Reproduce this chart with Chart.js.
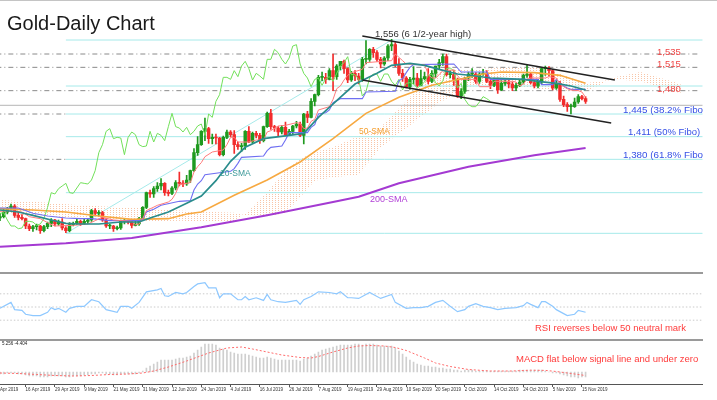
<!DOCTYPE html>
<html>
<head>
<meta charset="utf-8">
<script src="https://cdn.jsdelivr.net/npm/chart.js@4.4.1/dist/chart.umd.min.js"></script>
<style>
html, body { margin: 0; padding: 0; background: #fff; }
body { width: 717px; height: 400px; position: relative; overflow: hidden; font-family: "Liberation Sans", Arial, sans-serif; }
canvas { position: absolute; left: -20px; }
.rule { position: absolute; left: 0; width: 703px; height: 2px; background: #9a9a9a; }
#notes { position: absolute; left: 0; top: 0; width: 703px; height: 400px; overflow: hidden; }
.t { position: absolute; white-space: nowrap; line-height: 1; }
</style>
</head>
<body>
<canvas id="main" width="737" height="272" style="top:0"></canvas>
<canvas id="rsi" width="737" height="66" style="top:274px"></canvas>
<canvas id="macd" width="737" height="59" style="top:341px"></canvas>
<div style="position:absolute;left:0;top:0;width:717px;height:1px;background:#c4c4c4"></div>
<div class="rule" style="top:272px"></div>
<div class="rule" style="top:339px"></div>

<div id="notes">
  <div class="t" style="left:7px;top:13px;font-size:20px;color:#1a1a1a">Gold-Daily Chart</div>
  <div class="t" style="left:375px;top:29px;font-size:9.5px;color:#333">1,556 (6 1/2-year high)</div>
  <div class="t" style="left:657px;top:47px;font-size:9.5px;color:#f04545">1,535</div>
  <div class="t" style="left:657px;top:58.5px;font-size:9.5px;color:#f04545">1,515</div>
  <div class="t" style="left:657px;top:83.5px;font-size:9.5px;color:#f04545">1,480</div>
  <div class="t" style="left:623px;top:104.5px;font-size:9.8px;color:#3650e6">1,445 (38.2% Fibo)</div>
  <div class="t" style="left:628px;top:127px;font-size:9.5px;color:#3650e6">1,411 (50% Fibo)</div>
  <div class="t" style="left:623px;top:149.5px;font-size:9.8px;color:#3650e6">1,380 (61.8% Fibo)</div>
  <div class="t" style="left:359px;top:127px;font-size:8.5px;color:#f5a030">50-SMA</div>
  <div class="t" style="left:220px;top:169px;font-size:8.5px;color:#3a9898">20-SMA</div>
  <div class="t" style="left:370px;top:194.5px;font-size:9px;color:#b13fd6">200-SMA</div>
  <div class="t" style="left:535px;top:322.5px;font-size:9.5px;color:#ff3b3b">RSI reverses below 50 neutral mark</div>
  <div class="t" style="left:516px;top:353.5px;font-size:9.5px;color:#ff3b3b">MACD flat below signal line and under zero</div>
  <div class="t" style="left:2px;top:341.5px;font-size:4.5px;color:#222">5.256 -4.404</div>
</div>

<script>
// bar index 0 = 5 Apr 2019 ... 160 = 18 Nov 2019
const opens = [1289,1291,1298,1303,1307,1293,1290,1288,1277,1273,
  1276,1277,1270,1276,1281,1286,1280,1283,1274,1270,
  1279,1281,1284,1281,1284,1286,1300,1296,1297,1286,
  1277,1277,1273,1274,1284,1284,1283,1278,1280,1288,
  1305,1327,1325,1333,1337,1341,1327,1326,1334,1342,
  1341,1340,1346,1360,1387,1399,1419,1423,1408,1410,
  1409,1384,1410,1418,1414,1399,1396,1397,1419,1403,
  1416,1413,1405,1426,1446,1426,1424,1418,1425,1414,
  1419,1427,1430,1413,1445,1440,1464,1474,1500,1500,
  1497,1510,1501,1517,1524,1513,1496,1506,1502,1497,
  1527,1527,1542,1537,1527,1520,1529,1547,1549,1520,
  1506,1499,1486,1497,1499,1488,1498,1501,1494,1506,
  1517,1522,1531,1504,1504,1497,1472,1479,1499,1505,
  1505,1494,1505,1505,1494,1488,1497,1481,1491,1492,
  1490,1484,1488,1493,1503,1505,1492,1487,1495,1513,
  1514,1510,1484,1491,1467,1459,1456,1456,1463,1471,
  1468];
const highs = [1296,1302,1305,1310,1309,1298,1294,1289,1280,1278,
  1280,1278,1278,1283,1288,1287,1286,1288,1276,1282,
  1283,1287,1286,1288,1288,1302,1303,1300,1299,1288,
  1280,1278,1277,1286,1287,1286,1285,1284,1290,1306,
  1328,1331,1336,1342,1348,1342,1331,1336,1345,1358,
  1345,1353,1361,1393,1411,1420,1439,1425,1415,1415,
  1410,1412,1421,1420,1420,1403,1401,1420,1426,1418,
  1419,1416,1427,1448,1452,1428,1426,1428,1433,1422,
  1428,1434,1433,1446,1449,1468,1475,1503,1508,1506,
  1513,1535,1519,1524,1526,1514,1509,1510,1506,1530,
  1555,1543,1545,1540,1530,1531,1549,1557,1552,1528,
  1512,1501,1500,1516,1506,1511,1508,1513,1510,1517,
  1527,1535,1535,1510,1511,1499,1483,1500,1508,1513,
  1507,1507,1512,1510,1498,1499,1499,1495,1498,1496,
  1493,1491,1496,1505,1518,1507,1496,1497,1514,1517,
  1516,1512,1495,1494,1472,1462,1460,1469,1474,1473,
  1471];
const lows = [1285,1289,1295,1301,1290,1286,1286,1273,1270,1269,
  1271,1266,1268,1273,1276,1277,1278,1271,1267,1268,
  1277,1279,1278,1279,1281,1284,1293,1292,1284,1275,
  1273,1269,1271,1272,1280,1280,1274,1277,1278,1286,
  1303,1320,1320,1329,1331,1323,1322,1324,1331,1337,
  1336,1338,1342,1359,1383,1398,1405,1401,1400,1400,
  1382,1382,1408,1411,1386,1392,1389,1392,1402,1402,
  1409,1401,1403,1425,1422,1419,1412,1415,1412,1413,
  1415,1424,1411,1400,1432,1439,1457,1472,1495,1491,
  1496,1480,1497,1511,1506,1492,1494,1495,1490,1494,
  1520,1524,1530,1524,1514,1518,1525,1540,1516,1503,
  1494,1484,1482,1490,1486,1487,1496,1490,1492,1500,
  1512,1518,1502,1499,1488,1470,1468,1476,1495,1500,
  1491,1491,1503,1492,1483,1486,1476,1480,1488,1484,
  1480,1480,1486,1490,1500,1490,1484,1484,1490,1503,
  1502,1481,1482,1464,1456,1449,1445,1455,1461,1466,
  1461];
const closes = [1291,1298,1303,1307,1293,1290,1288,1277,1273,1276,
  1277,1270,1276,1281,1286,1280,1283,1274,1270,1279,
  1281,1284,1281,1284,1286,1300,1296,1297,1286,1277,
  1277,1273,1274,1284,1284,1283,1278,1280,1288,1305,
  1327,1325,1333,1337,1341,1327,1326,1334,1342,1341,
  1340,1346,1360,1387,1399,1419,1423,1408,1410,1409,
  1384,1410,1418,1414,1399,1396,1397,1419,1403,1416,
  1413,1405,1426,1446,1426,1424,1418,1425,1414,1419,
  1427,1430,1413,1445,1440,1464,1474,1500,1500,1497,
  1510,1501,1517,1524,1513,1496,1506,1502,1497,1527,
  1527,1542,1537,1527,1520,1529,1547,1549,1520,1506,
  1499,1486,1497,1499,1488,1498,1501,1494,1506,1517,
  1522,1531,1504,1504,1497,1472,1479,1499,1505,1505,
  1494,1505,1505,1494,1488,1497,1481,1491,1492,1490,
  1484,1488,1493,1503,1505,1492,1487,1495,1513,1514,
  1510,1484,1491,1467,1459,1456,1456,1463,1471,1468,
  1464];

// indicator lines (bar index, value)
const sma20Idx = [0,5,9,14,18,22,27,33,38,41,46,51,55,59,63,67,72,79,83,87,92,97,103,107,112,116,120,125,130,134,138,143,147,152,156,160];
const sma20 = [1301,1298,1293,1286,1281,1280,1280,1283,1283,1289,1298,1311,1322,1345,1374,1395,1408,1413,1416,1440,1465,1490,1506,1518,1521,1518,1512,1505,1502,1499,1498,1497,1494,1491,1487,1481];
const sma50Idx = [0,9,18,27,36,46,51,55,64,73,82,91,100,109,118,128,132,137,146,153,160];
const sma50 = [1303,1301,1298,1292,1287,1288,1295,1298,1323,1346,1373,1408,1446,1470,1488,1500,1505,1508,1507,1503,1491];
const sma200Idx = [0,18,36,55,73,91,98,109,128,146,160];
const sma200 = [1246,1251,1259,1275,1293,1313,1321,1341,1366,1383,1394];
const tenkanIdx = [0,3,6,8,11,13,15,20,24,26,28,31,36,37,38,39,40,43,46,47,48,49,52,53,54,55,56,58,61,62,63,64,65,68,70,72,73,74,76,78,81,82,83,84,85,86,87,90,91,92,93,94,95,96,99,100,107,108,109,110,111,116,117,118,119,120,121,124,125,126,130,131,134,135,140,141,142,143,144,145,149,150,152,153,154,155,156,158,159,160];
const tenkan = [1299,1300,1298,1291,1288,1282,1277,1278,1280,1285,1290,1286,1284,1279,1280,1288,1300,1308,1313,1317,1326,1339,1342,1358,1366,1372,1381,1388,1391,1399,1410,1410,1403,1403,1406,1406,1418,1420,1427,1428,1432,1431,1423,1424,1434,1437,1451,1456,1467,1483,1487,1496,1503,1507,1512,1522,1525,1535,1530,1525,1520,1519,1505,1499,1499,1504,1510,1511,1502,1497,1497,1486,1486,1494,1494,1493,1487,1490,1497,1499,1499,1501,1499,1490,1486,1483,1481,1480,1478,1470];
const kijunIdx = [0,5,9,13,18,22,25,30,38,39,40,42,44,49,52,53,54,55,56,63,64,65,66,72,73,74,77,78,79,84,85,86,87,89,90,91,93,99,100,108,109,110,111,112,113,124,125,126,133,134,147,148,151,152,153,154,155,156,160];
const kijun = [1304,1304,1296,1292,1289,1288,1288,1285,1285,1287,1298,1302,1308,1314,1315,1331,1340,1345,1354,1359,1363,1371,1380,1382,1390,1395,1397,1406,1417,1417,1425,1429,1445,1447,1451,1462,1468,1468,1478,1479,1495,1498,1507,1515,1519,1520,1514,1508,1508,1497,1497,1489,1489,1497,1491,1487,1484,1482,1482];
const cloudIdx = [0,10,20,30,40,50,58,64,68,73,78,82,86,91,98,104,112,116,120,128,137,148,160,168,175,186];
const senkouA = [1296,1292,1290,1287,1284,1285,1283,1283,1300,1328,1360,1378,1388,1395,1412,1425,1470,1500,1510,1512,1514,1515,1491,1497,1494,1476];
const senkouB = [1316,1313,1309,1306,1304,1300,1298,1297,1292,1292,1296,1320,1345,1350,1354,1395,1428,1445,1462,1486,1490,1482,1478,1500,1508,1490];
const CHIKOU_SHIFT = 26;

// drawn levels
const fiboLevels = [1556, 1487, 1445, 1411, 1377, 1327, 1266];
const fiboStart = 18;
const dashLevels = [1535, 1515, 1480];
const leftDashLevels = [1445, 1377];
const priceLine = 1458;
const fiboDiag = [[18, 1266], [107, 1556]];
const channelTop = [[99, 1562], [168, 1496]];
const channelBottom = [[99, 1496], [167, 1431.5]];

// RSI (bar index, value)
const rsiIdx = [0,3,4,6,7,9,11,13,14,15,16,18,19,21,23,25,27,29,32,33,35,36,38,40,43,44,45,46,48,50,51,53,54,56,57,59,60,61,63,65,66,67,68,70,72,73,74,76,78,81,82,83,85,87,90,92,93,95,96,98,101,104,107,108,111,113,115,117,119,121,123,125,127,128,130,132,134,136,138,141,143,144,145,147,148,149,151,152,154,155,157,158,160];
const rsiVal = [48,57,46,45,39,37,37,42,49,46,48,42,48,51,51,61,58,46,42,51,51,48,57,73,76,78,67,66,72,70,72,81,85,87,79,79,64,70,70,61,61,66,61,64,60,69,61,58,57,60,54,61,66,73,72,70,73,64,64,63,72,63,69,57,48,49,49,51,57,60,51,43,46,51,55,51,49,46,48,49,52,57,54,49,58,58,51,46,40,37,39,45,42];
const rsiLevels = [30, 50, 70];

// MACD histogram, one per bar, and signal line (bar index, value)
const macdHist = [-2,-2,-1,-1,-1,-2,-2,-3,-4,-4,
  -4,-5,-5,-5,-4,-4,-4,-4,-5,-5,
  -4,-4,-4,-3,-3,-2,-2,-1,-1,-2,
  -2,-3,-3,-2,-2,-2,-2,-2,-1,1,
  4,6,8,10,12,12,12,12,13,14,
  14,15,16,19,22,25,28,28,28,27,
  24,23,22,20,19,18,18,18,17,16,
  15,14,14,15,14,13,12,12,12,12,
  12,12,11,13,14,16,18,20,22,23,
  24,25,26,27,27,27,27,28,28,27,
  28,28,28,27,26,26,26,26,24,21,
  18,15,12,10,8,7,6,6,5,5,
  4,4,3,3,2,2,1,2,2,2,
  1,1,1,1,1,1,1,1,1,1,
  1,1,2,2,2,2,2,2,2,1,
  0,-1,-1,-2,-3,-4,-5,-5,-6,-5,
  -5];
const sigIdx = [0,5,10,15,20,25,30,35,39,42,46,51,57,62,66,69,73,77,82,85,87,91,95,98,101,105,108,111,116,119,123,128,134,140,145,149,152,156,160];
const sigVal = [-1,-1.5,-2.5,-3.5,-4,-3.5,-2.5,-2,-1,1,5,11,19,24,25,23,20,17,14.5,14,15.5,20,24,26,26.5,26,24.5,21.5,14,9,5.5,2.5,1,1,1.8,1.6,0.5,-1.5,-3.5];

// x axis
const tickBars = [-1,7,15,23,31,39,47,55,63,71,79,87,95,103,111,119,127,135,143,151,159];
const tickLabels = ['4 Apr 2019','16 Apr 2019','29 Apr 2019','9 May 2019','21 May 2019','31 May 2019','12 Jun 2019','24 Jun 2019','4 Jul 2019','16 Jul 2019','26 Jul 2019','7 Aug 2019','19 Aug 2019','29 Aug 2019','10 Sep 2019','20 Sep 2019','2 Oct 2019','14 Oct 2019','24 Oct 2019','5 Nov 2019','15 Nov 2019'];

const X_MIN = -1, X_MAX = 192;
const PAD_L = 16.34, PAD_R = 14.3;

function pts(xs, ys) { return xs.map((x, i) => ({x: x, y: ys[i]})); }
function seg(p) { return p.map(a => ({x: a[0], y: a[1]})); }
function flat(v, from, to) { return [{x: from, y: v}, {x: to, y: v}]; }
function lineSet(data, color, width, order, extra) {
  return Object.assign({type: 'line', data: data, borderColor: color, borderWidth: width,
    pointRadius: 0, fill: false, order: order}, extra || {});
}

function baseOptions(yMin, yMax, xScale) {
  return {
    responsive: false, animation: false, events: [],
    layout: {padding: {left: PAD_L, right: PAD_R, top: 0, bottom: 0}},
    plugins: {legend: {display: false}, tooltip: {enabled: false}},
    elements: {point: {radius: 0}, line: {tension: 0}},
    scales: {
      x: xScale || {type: 'linear', display: false, min: X_MIN, max: X_MAX, offset: false, grid: {offset: false}},
      y: {type: 'linear', display: false, min: yMin, max: yMax}
    }
  };
}

// dotted hatch for the Ichimoku cloud
const mainCanvas = document.getElementById('main');
const pc = document.createElement('canvas');
pc.width = 3; pc.height = 2;
const pg = pc.getContext('2d');
pg.fillStyle = 'rgba(242,150,95,0.55)';
pg.fillRect(1, 0, 1, 1);
const cloudPattern = mainCanvas.getContext('2d').createPattern(pc, 'repeat');

const candleColors = closes.map((c, i) => c >= opens[i] ? '#1f9a1f' : '#f22c2c');
const bars = closes.map((c, i) => i);

const mainSets = [
  lineSet(pts(cloudIdx, senkouA), 'rgba(0,0,0,0)', 0, 30, {fill: '+1', backgroundColor: cloudPattern}),
  lineSet(pts(cloudIdx, senkouB), 'rgba(0,0,0,0)', 0, 30)
];
fiboLevels.forEach(v => mainSets.push(lineSet(flat(v, fiboStart, X_MAX), '#a6eaea', 1, 25)));
dashLevels.forEach(v => mainSets.push(lineSet(flat(v, X_MIN, X_MAX - 1), '#8a8a8a', 1, 24, {borderDash: [5, 3, 1, 3]})));
leftDashLevels.forEach(v => mainSets.push(lineSet(flat(v, X_MIN, fiboStart), '#8a8a8a', 1, 24, {borderDash: [5, 3, 1, 3]})));
mainSets.push(lineSet(flat(priceLine, X_MIN, X_MAX), '#c4c4c4', 1.2, 24));
mainSets.push(lineSet(seg(fiboDiag), '#a6eaea', 1, 23));
mainSets.push({type: 'bar', data: bars.map(i => ({x: i, y: [lows[i], highs[i]]})),
  backgroundColor: candleColors, barThickness: 1, grouped: false, order: 12});
mainSets.push({type: 'bar', data: bars.map(i => ({x: i, y: [opens[i], closes[i]]})),
  backgroundColor: candleColors, barThickness: 2.8, minBarLength: 1, grouped: false, order: 11});
mainSets.push(lineSet(pts(sma200Idx, sma200), '#a43ad2', 2, 8));
mainSets.push(lineSet(pts(sma50Idx, sma50), '#f7a941', 1.6, 7));
mainSets.push(lineSet(closes.slice(CHIKOU_SHIFT).map((c, i) => ({x: i, y: c})), '#72e05a', 1, 6));
mainSets.push(lineSet(pts(kijunIdx, kijun), '#6f6ff2', 1.1, 5));
mainSets.push(lineSet(pts(tenkanIdx, tenkan), '#ff7b7b', 1, 4));
mainSets.push(lineSet(pts(sma20Idx, sma20), '#2a8c8c', 1.7, 3));
mainSets.push(lineSet(seg(channelTop), '#222', 1.6, 1));
mainSets.push(lineSet(seg(channelBottom), '#222', 1.6, 1));

new Chart(mainCanvas, {
  type: 'line',
  data: {datasets: mainSets},
  options: baseOptions(1208, 1616)
});

const rsiSets = [lineSet(pts(rsiIdx, rsiVal), '#8ec8ff', 1.2, 1)];
rsiLevels.forEach(v => rsiSets.push(lineSet(flat(v, X_MIN, X_MAX), '#cacaca', 1, 5, {borderDash: [1.5, 2]})));
new Chart(document.getElementById('rsi'), {
  type: 'line',
  data: {datasets: rsiSets},
  options: baseOptions(0, 100)
});

new Chart(document.getElementById('macd'), {
  type: 'line',
  data: {datasets: [
    {type: 'bar', data: pts(bars, macdHist), backgroundColor: '#cfcfcf', barThickness: 1, grouped: false, order: 2},
    lineSet(pts(sigIdx, sigVal), '#ff6a6a', 1, 1, {borderDash: [2, 2]})
  ]},
  options: baseOptions(-12, 31, {
    type: 'linear', min: X_MIN, max: X_MAX, offset: false,
    afterBuildTicks: s => { s.ticks = tickBars.map(v => ({value: v})); },
    afterFit: s => { s.height = 16; },
    ticks: {autoSkip: false, maxRotation: 0, minRotation: 0, align: 'start', padding: 0, color: '#333',
      font: {family: 'Liberation Sans', size: 4.5},
      callback: v => { const k = tickBars.indexOf(v); return k < 0 ? '' : tickLabels[k]; }},
    grid: {offset: false, drawOnChartArea: false, drawTicks: true, tickLength: 3, color: '#555'},
    border: {display: true, color: '#555', width: 1}
  })
});
</script>
</body>
</html>
